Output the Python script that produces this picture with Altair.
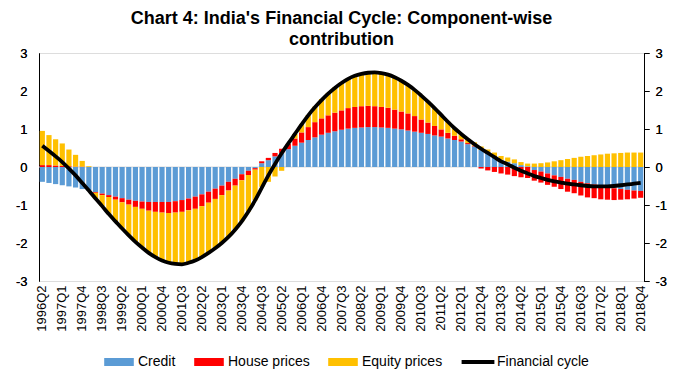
import altair as alt
import pandas as pd

# Quarterly categories 1996Q2 .. 2018Q4
quarters = [f"{y}Q{q}" for y in range(1996, 2019) for q in range(1, 5)][1:]
tick_labels = quarters[::3]

credit = [
    -0.39, -0.42, -0.45, -0.48, -0.51, -0.54, -0.58, -0.62, -0.66, -0.70,
    -0.74, -0.78, -0.82, -0.86, -0.89, -0.91, -0.92, -0.92, -0.92, -0.92,
    -0.90, -0.87, -0.83, -0.78, -0.72, -0.65, -0.57, -0.49, -0.39, -0.31,
    -0.19, -0.10, -0.03, 0.10, 0.18, 0.28, 0.37, 0.47, 0.56, 0.64,
    0.71, 0.78, 0.85, 0.90, 0.94, 0.98, 1.01, 1.03, 1.04, 1.05,
    1.05, 1.04, 1.03, 1.01, 0.99, 0.96, 0.93, 0.90, 0.87, 0.83,
    0.80, 0.75, 0.71, 0.67, 0.60, 0.54, 0.45, 0.38, 0.27, 0.19,
    0.14, 0.10, 0.05, 0.02, -0.08, -0.12, -0.17, -0.22, -0.26, -0.31,
    -0.34, -0.39, -0.43, -0.46, -0.50, -0.53, -0.56, -0.58, -0.60, -0.62,
    -0.63,
]

house_prices = [
    0.05, 0.05, 0.04, 0.03, 0.02, 0.01, 0.01, 0.00, -0.02, -0.04,
    -0.05, -0.08, -0.11, -0.13, -0.16, -0.19, -0.23, -0.26, -0.28, -0.29,
    -0.30, -0.31, -0.31, -0.32, -0.31, -0.29, -0.27, -0.25, -0.23, -0.18,
    -0.16, -0.11, -0.04, 0.05, 0.06, 0.09, 0.11, 0.14, 0.19, 0.27,
    0.34, 0.40, 0.43, 0.46, 0.49, 0.51, 0.54, 0.55, 0.56, 0.56,
    0.55, 0.54, 0.53, 0.50, 0.47, 0.45, 0.41, 0.35, 0.30, 0.25,
    0.19, 0.15, 0.11, 0.06, 0.03, 0.02, -0.04, -0.09, -0.13, -0.17,
    -0.20, -0.24, -0.27, -0.29, -0.28, -0.29, -0.30, -0.30, -0.32, -0.34,
    -0.35, -0.36, -0.37, -0.36, -0.35, -0.33, -0.31, -0.28, -0.25, -0.21,
    -0.18,
]

equity_prices = [
    0.90, 0.79, 0.69, 0.59, 0.44, 0.31, 0.15, 0.02, -0.15, -0.29,
    -0.45, -0.57, -0.69, -0.81, -0.92, -1.02, -1.11, -1.19, -1.26, -1.31,
    -1.35, -1.38, -1.38, -1.36, -1.34, -1.32, -1.30, -1.26, -1.22, -1.16,
    -1.08, -0.96, -0.81, -0.52, -0.39, -0.25, -0.10, 0.00, 0.12, 0.21,
    0.32, 0.41, 0.51, 0.59, 0.67, 0.74, 0.78, 0.82, 0.85, 0.87,
    0.89, 0.89, 0.87, 0.85, 0.80, 0.74, 0.68, 0.63, 0.55, 0.47,
    0.38, 0.29, 0.20, 0.14, 0.11, 0.09, 0.09, 0.08, 0.11, 0.10,
    0.11, 0.10, 0.08, 0.07, 0.09, 0.10, 0.12, 0.15, 0.18, 0.21,
    0.24, 0.27, 0.29, 0.31, 0.33, 0.35, 0.36, 0.37, 0.38, 0.38,
    0.38,
]

financial_cycle = [
    0.56, 0.42, 0.28, 0.13, -0.04, -0.22, -0.42, -0.62, -0.83, -1.03,
    -1.24, -1.43, -1.62, -1.80, -1.97, -2.12, -2.26, -2.37, -2.46, -2.52,
    -2.55, -2.56, -2.52, -2.46, -2.37, -2.26, -2.14, -2.00, -1.84, -1.65,
    -1.43, -1.17, -0.88, -0.55, -0.22, 0.08, 0.36, 0.62, 0.87, 1.12,
    1.36, 1.57, 1.76, 1.93, 2.08, 2.21, 2.32, 2.40, 2.45, 2.48,
    2.49, 2.47, 2.43, 2.36, 2.27, 2.16, 2.03, 1.88, 1.72, 1.55,
    1.37, 1.19, 1.02, 0.87, 0.73, 0.60, 0.48, 0.37, 0.26, 0.15,
    0.07, -0.02, -0.10, -0.17, -0.24, -0.29, -0.34, -0.38, -0.41, -0.44,
    -0.46, -0.48, -0.50, -0.51, -0.51, -0.51, -0.50, -0.48, -0.46, -0.44,
    -0.42,
]

series_names = ["Credit", "House prices", "Equity prices", "Financial cycle"]
series_colors = ["#5B9BD5", "#FF0000", "#FFC000", "#000000"]
y_ticks = [-3, -2, -1, 0, 1, 2, 3]

FONT = "Liberation Sans"

# ---- data tables ----
rows = []
for comp_idx, (name, vals) in enumerate(zip(series_names[:3], [credit, house_prices, equity_prices])):
    for q, v in zip(quarters, vals):
        rows.append({"quarter": q, "series": name, "value": v, "ord": comp_idx})
bars_df = pd.DataFrame(rows)
line_df = pd.DataFrame({"quarter": quarters, "value": financial_cycle})
zero_df = pd.DataFrame({"value": [0]})
# legend-only points, placed outside the y domain and clipped away
legend_df = pd.DataFrame({"quarter": [quarters[0]] * 4, "series": series_names, "value": [10] * 4})

color_scale = alt.Scale(domain=series_names, range=series_colors)
x_scale = alt.Scale(domain=quarters, paddingInner=0.22, paddingOuter=0.11)
y_scale = alt.Scale(domain=[-3, 3], nice=False, zero=False)

x_axis = alt.Axis(
    values=tick_labels, labelAngle=-90, domain=False, ticks=False,
    labelPadding=4, labelFontSize=13, labelFont=FONT, labelColor="#000000",
    title=None, labelOverlap=False,
)

left_axis = alt.Axis(
    orient="left", values=y_ticks, ticks=False, grid=False, domainColor="#000000",
    domainWidth=1, labelPadding=12, labelFontSize=13, labelFont=FONT,
    labelColor="#000000", title=None, labelExpr="'' + datum.value",
)
right_axis = alt.Axis(
    orient="right", values=y_ticks, ticks=True, tickSize=5, tickColor="#000000",
    grid=False, domainColor="#000000", domainWidth=1, labelPadding=6,
    labelFontSize=13, labelFont=FONT, labelColor="#000000", title=None,
    labelExpr="'' + datum.value",
)

rect_path = "M-1.85,-0.5L1.85,-0.5L1.85,0.5L-1.85,0.5Z"
line_path = "M-2.05,-0.24L2.05,-0.24L2.05,0.24L-2.05,0.24Z"
shape_scale = alt.Scale(domain=series_names, range=[rect_path, rect_path, rect_path, line_path])

legend = alt.Legend(
    orient="none", legendX=72, legendY=301, direction="horizontal", title=None,
    labelFont=FONT, labelFontSize=14, labelColor="#000000", labelOffset=11,
    columnPadding=18, symbolSize=256, symbolStrokeWidth=0, symbolOpacity=1,
    columns=4,
)

zero_rule = alt.Chart(zero_df).mark_rule(color="#D9D9D9", strokeWidth=1).encode(
    y=alt.Y("value:Q", scale=y_scale, axis=left_axis)
)

bars = alt.Chart(bars_df).mark_bar(opacity=1).encode(
    x=alt.X("quarter:N", scale=x_scale, sort=quarters, axis=x_axis),
    y=alt.Y("value:Q", stack="zero", scale=y_scale, axis=left_axis),
    color=alt.Color("series:N", scale=color_scale, legend=legend),
    order=alt.Order("ord:Q", sort="ascending"),
)

line = alt.Chart(line_df).mark_line(
    color="#000000", strokeWidth=3.8, interpolate="monotone"
).encode(
    x=alt.X("quarter:N", scale=x_scale, sort=quarters, axis=x_axis),
    y=alt.Y("value:Q", scale=y_scale, axis=right_axis),
)

legend_layer = alt.Chart(legend_df).mark_point(
    filled=True, size=256, clip=True, opacity=1
).encode(
    x=alt.X("quarter:N", scale=x_scale, sort=quarters, axis=x_axis),
    y=alt.Y("value:Q", scale=y_scale, axis=right_axis),
    color=alt.Color("series:N", scale=color_scale, legend=legend),
    shape=alt.Shape("series:N", scale=shape_scale, legend=legend),
)

chart = alt.layer(zero_rule, bars, line, legend_layer).resolve_axis(
    y="independent"
).properties(
    width=605,
    height=228,
    title=alt.TitleParams(
        text=["Chart 4: India's Financial Cycle: Component-wise", "contribution"],
        font=FONT, fontSize=18, fontWeight="bold", color="#000000",
        anchor="middle", lineHeight=21, offset=-2,
    ),
    autosize=alt.AutoSizeParams(type="none"),
    padding={"left": 31, "top": 45, "right": 31, "bottom": 100},
).configure_view(stroke=None).configure(background="#ffffff")

chart.save("out.html", embed_options={"renderer": "svg", "actions": False})
